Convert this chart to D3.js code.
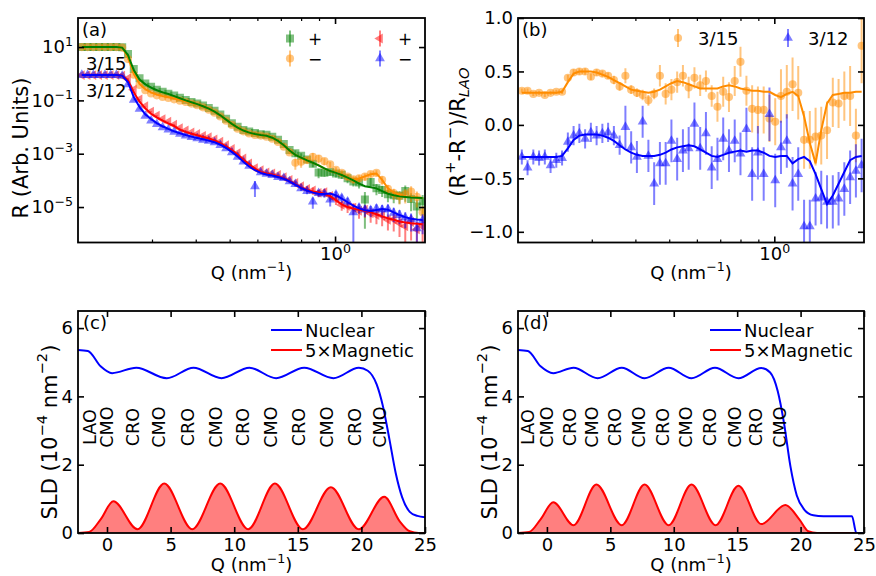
<!DOCTYPE html>
<html>
<head>
<meta charset="utf-8">
<script src="https://cdn.jsdelivr.net/npm/d3@7/dist/d3.min.js"></script>
<style>
  html, body { margin: 0; padding: 0; background: #fff; }
  svg text { font-family: "DejaVu Sans", sans-serif; fill: #000; }
</style>
</head>
<body>
<svg id="fig" width="876" height="576"></svg>
<script>
// ---------------- data ----------------
// Momentum transfer grid shared by the reflectivity and spin-asymmetry panels (nm^-1)
const qValues = [0.1891,0.1964,0.2040,0.2119,0.2201,0.2286,0.2374,0.2466,0.2562,0.2661,
  0.2764,0.2871,0.2982,0.3097,0.3217,0.3341,0.3471,0.3605,0.3745,0.3890,
  0.4040,0.4196,0.4358,0.4527,0.4702,0.4884,0.5073,0.5269,0.5473,0.5685,
  0.5905,0.6133,0.6370,0.6617,0.6873,0.7139,0.7415,0.7702,0.8000,0.8320,
  0.8640,0.8975,0.9324,0.9685,1.006,1.045,1.086,1.128,1.171,1.217,
  1.264,1.313,1.363,1.416,1.471,1.528,1.587,1.649,1.713,1.779];

// Reflectivity, log10(R): measured points
const r315PlusLog = [1.00,1.00,1.00,1.00,1.00,1.00,1.00,0.99,0.74,0.18,
  -0.17,-0.37,-0.49,-0.60,-0.68,-0.75,-0.82,-0.90,-0.99,-1.06,
  -1.12,-1.19,-1.29,-1.39,-1.53,-1.69,-1.86,-1.99,-2.11,-2.17,
  -2.22,-2.27,-2.29,-2.36,-2.48,-2.64,-2.86,-2.98,-3.08,-3.22,
  -3.38,-3.70,-3.71,-3.69,-3.74,-3.79,-3.92,-4.04,-4.08,-4.72,
  -4.06,-4.30,-4.36,-4.52,-4.56,-4.58,-4.40,-4.70,-4.98,-4.78];
const r315MinusLog = [1.00,1.00,1.00,1.00,1.00,1.00,1.00,0.98,0.55,-0.04,
  -0.42,-0.62,-0.74,-0.81,-0.87,-0.91,-0.96,-1.01,-1.06,-1.12,
  -1.18,-1.26,-1.35,-1.46,-1.60,-1.76,-1.92,-2.06,-2.16,-2.24,
  -2.30,-2.32,-2.36,-2.44,-2.56,-2.74,-2.95,-3.34,-3.30,-3.24,
  -3.12,-3.18,-3.28,-3.40,-3.60,-3.72,-3.86,-3.96,-3.92,-3.86,
  -3.76,-3.72,-3.98,-4.32,-4.48,-4.60,-4.52,-4.42,-4.62,-5.20];
const r312PlusLog = [-0.05,-0.05,-0.05,-0.05,-0.05,-0.05,-0.05,-0.07,-0.18,-0.60,
  -0.96,-1.22,-1.42,-1.57,-1.70,-1.80,-1.91,-2.04,-2.13,-2.20,
  -2.26,-2.33,-2.38,-2.46,-2.55,-2.68,-2.82,-2.98,-3.18,-3.36,
  -3.54,-3.62,-3.70,-3.74,-3.80,-3.88,-3.98,-4.10,-4.22,-4.32,
  -4.38,-4.47,-4.44,-4.58,-4.70,-4.92,-4.96,-5.02,-5.14,-5.10,
  -5.24,-5.30,-5.32,-5.48,-5.46,-5.60,-5.72,-5.56,-5.84,-5.72];
const r312MinusLog = [-0.05,-0.05,-0.05,-0.05,-0.05,-0.05,-0.05,-0.08,-0.40,-0.98,
  -1.32,-1.58,-1.76,-1.89,-2.01,-2.10,-2.18,-2.26,-2.32,-2.38,
  -2.43,-2.48,-2.52,-2.58,-2.68,-2.80,-2.95,-3.12,-3.30,-3.46,
  -4.23,-3.70,-3.76,-3.80,-3.88,-3.92,-4.04,-4.14,-4.30,-4.40,
  -4.80,-4.48,-4.50,-4.72,-4.54,-4.66,-4.80,-5.20,-5.02,-5.10,
  -5.12,-5.06,-5.10,-5.08,-5.22,-5.30,-5.40,-5.46,-5.80,-5.50];

// Relative uncertainty of each reflectivity point
const r315PlusErr = [.02,.02,.02,.02,.02,.02,.02,.02,.03,.03,.03,.03,.03,.03,.03,.03,.03,.03,.03,.03,
  .05,.05,.05,.05,.05,.05,.05,.05,.05,.05,.08,.08,.08,.10,.10,.12,.15,.30,.25,.20,
  .25,.40,.30,.25,.30,.30,.35,.35,.40,.92,.40,.45,.45,.50,.50,.50,.60,.65,.70,.70];
const r315MinusErr = [.02,.02,.02,.02,.02,.02,.02,.02,.03,.03,.03,.03,.03,.03,.03,.03,.03,.03,.03,.03,
  .05,.05,.05,.05,.05,.05,.05,.05,.05,.05,.08,.08,.08,.10,.10,.12,.15,.45,.40,.25,
  .40,.35,.30,.25,.25,.25,.25,.30,.30,.30,.25,.25,.35,.40,.45,.50,.55,.60,.60,.70];
const r312PlusErr = [.02,.02,.02,.02,.02,.02,.02,.02,.03,.03,.03,.03,.03,.03,.03,.03,.03,.03,.03,.03,
  .05,.05,.05,.05,.05,.05,.05,.05,.05,.05,.08,.08,.08,.08,.08,.12,.15,.20,.25,.25,
  .30,.30,.35,.35,.40,.40,.45,.45,.50,.50,.55,.55,.60,.60,.65,.70,.90,.80,.90,.80];
const r312MinusErr = [.02,.02,.02,.02,.02,.02,.02,.02,.03,.03,.03,.03,.03,.03,.03,.03,.03,.03,.03,.03,
  .05,.05,.05,.05,.05,.05,.05,.05,.05,.05,.60,.08,.08,.10,.10,.12,.15,.20,.20,.25,
  .45,.30,.30,.45,.35,.35,.40,1.0,.40,.45,.45,.45,.50,.50,.55,.55,.60,.65,1.0,.70];

// Model reflectivity, log10(R)
const fit315PlusLog = [1.00,1.00,1.00,1.00,1.00,1.00,1.00,0.98,0.70,0.14,
  -0.22,-0.40,-0.52,-0.62,-0.70,-0.76,-0.84,-0.92,-1.00,-1.07,
  -1.14,-1.22,-1.31,-1.42,-1.56,-1.72,-1.88,-2.02,-2.13,-2.21,
  -2.26,-2.30,-2.33,-2.40,-2.52,-2.68,-2.88,-3.04,-3.15,-3.25,
  -3.34,-3.44,-3.55,-3.65,-3.72,-3.80,-3.90,-4.00,-4.12,-4.22,
  -4.26,-4.30,-4.40,-4.50,-4.56,-4.60,-4.62,-4.64,-4.65,-4.66];
const fit315MinusLog = [1.00,1.00,1.00,1.00,1.00,1.00,1.00,0.98,0.60,0.00,
  -0.38,-0.58,-0.70,-0.78,-0.84,-0.88,-0.93,-0.98,-1.03,-1.09,
  -1.15,-1.22,-1.31,-1.42,-1.56,-1.72,-1.88,-2.02,-2.13,-2.21,
  -2.26,-2.30,-2.33,-2.40,-2.52,-2.68,-2.88,-3.04,-3.15,-3.25,
  -3.34,-3.44,-3.55,-3.65,-3.72,-3.80,-3.90,-3.98,-3.93,-3.85,
  -3.77,-3.74,-3.98,-4.30,-4.45,-4.54,-4.60,-4.62,-4.64,-4.66];
const fit312PlusLog = [-0.05,-0.05,-0.05,-0.05,-0.05,-0.05,-0.05,-0.07,-0.25,-0.70,
  -1.05,-1.30,-1.50,-1.64,-1.76,-1.86,-1.96,-2.10,-2.18,-2.25,
  -2.31,-2.37,-2.43,-2.50,-2.60,-2.72,-2.86,-3.03,-3.22,-3.40,
  -3.56,-3.68,-3.74,-3.78,-3.84,-3.92,-4.02,-4.14,-4.26,-4.36,
  -4.42,-4.45,-4.50,-4.60,-4.74,-4.90,-5.00,-5.06,-5.10,-5.14,
  -5.20,-5.27,-5.35,-5.42,-5.48,-5.54,-5.58,-5.61,-5.63,-5.65];
const fit312MinusLog = [-0.05,-0.05,-0.05,-0.05,-0.05,-0.05,-0.05,-0.07,-0.32,-0.88,
  -1.25,-1.52,-1.70,-1.85,-1.97,-2.07,-2.16,-2.23,-2.30,-2.36,
  -2.41,-2.46,-2.51,-2.57,-2.66,-2.78,-2.93,-3.10,-3.30,-3.48,
  -3.62,-3.72,-3.78,-3.82,-3.87,-3.94,-4.04,-4.16,-4.28,-4.38,
  -4.46,-4.50,-4.51,-4.49,-4.56,-4.68,-4.82,-4.95,-5.05,-5.12,
  -5.15,-5.11,-5.07,-5.10,-5.20,-5.30,-5.38,-5.44,-5.47,-5.49];

// Spin asymmetry (R+ - R-)/R_LAO
const sa315 = [0.32,0.32,0.29,0.30,0.28,0.30,0.31,0.31,0.44,0.49,
  0.50,0.50,0.45,0.49,0.48,0.46,0.42,0.36,0.46,0.33,
  0.30,0.28,0.23,0.29,0.46,0.29,0.33,0.40,0.46,0.35,
  0.44,0.37,0.41,0.27,0.17,0.31,0.26,0.41,0.59,0.32,
  0.15,0.14,0.14,0.06,0.03,0.27,0.31,0.38,0.30,-0.14,
  -0.14,-0.11,-0.10,-0.05,0.21,0.20,0.27,0.27,-0.10,0.74];
const sa315Err = [.02,.02,.02,.02,.02,.02,.02,.02,.03,.03,
  .03,.03,.03,.03,.03,.03,.04,.04,.07,.04,
  .04,.05,.05,.05,.10,.10,.10,.10,.10,.10,
  .10,.10,.10,.10,.14,.14,.14,.14,.14,.14,
  .22,.22,.22,.22,.22,.25,.25,.25,.25,.27,
  .27,.27,.27,.27,.23,.23,.23,.28,.25,.35];
const sa312 = [-0.30,-0.40,-0.30,-0.31,-0.30,-0.38,-0.33,-0.31,-0.16,-0.10,
  -0.08,-0.13,-0.07,-0.10,-0.08,-0.07,-0.10,-0.19,-0.02,-0.21,
  -0.30,0.03,-0.29,-0.55,-0.36,-0.36,-0.15,-0.32,-0.24,-0.22,
  0.01,-0.22,-0.08,-0.40,-0.32,-0.13,-0.24,-0.15,-0.27,-0.04,
  -0.46,-0.26,-0.46,0.10,-0.52,-0.21,-0.15,-0.55,-0.46,-0.95,
  -0.95,-0.69,-0.68,-0.72,-0.72,-0.69,-0.60,-0.49,-0.43,-0.38];
const sa312Err = [.07,.07,.07,.07,.07,.07,.07,.07,.09,.09,
  .09,.09,.09,.09,.09,.09,.09,.09,.20,.15,
  .15,.15,.15,.20,.20,.20,.20,.20,.20,.20,
  .20,.20,.20,.20,.20,.20,.20,.20,.20,.20,
  .25,.25,.25,.25,.25,.25,.25,.25,.25,.25,
  .25,.25,.25,.25,.25,.25,.25,.25,.25,.25];
const saFit315 = [0.30,0.30,0.30,0.30,0.30,0.30,0.30,0.31,0.40,0.48,
  0.50,0.50,0.50,0.49,0.47,0.45,0.42,0.39,0.36,0.33,
  0.32,0.31,0.30,0.31,0.33,0.36,0.39,0.41,0.40,0.38,
  0.36,0.34,0.34,0.34,0.34,0.36,0.37,0.36,0.34,0.33,
  0.32,0.32,0.31,0.31,0.28,0.26,0.29,0.31,0.27,0.08,
  -0.17,-0.36,-0.05,0.20,0.28,0.29,0.30,0.30,0.31,0.31];
const saFit312 = [-0.30,-0.30,-0.30,-0.30,-0.30,-0.30,-0.30,-0.29,-0.22,-0.14,
  -0.10,-0.09,-0.09,-0.09,-0.10,-0.12,-0.15,-0.19,-0.23,-0.26,
  -0.28,-0.29,-0.29,-0.29,-0.28,-0.26,-0.23,-0.21,-0.20,-0.19,
  -0.20,-0.23,-0.26,-0.29,-0.30,-0.28,-0.26,-0.25,-0.24,-0.25,
  -0.24,-0.24,-0.26,-0.29,-0.30,-0.29,-0.29,-0.36,-0.32,-0.30,
  -0.34,-0.46,-0.60,-0.74,-0.66,-0.55,-0.44,-0.33,-0.30,-0.29];

// Scattering length density profiles (10^-4 nm^-2) vs depth
const sldZNucC = [-2.3,-1.5,-0.5,0.4,2.3,4.7,6.8,9.0,11.2,13.3,15.5,17.8,19.8,20.5,21.2,21.7,22.2,22.7,23.2,23.8,24.4,25.0];
const sldNucC  = [5.36,5.33,4.88,4.68,4.84,4.53,4.84,4.53,4.84,4.53,4.84,4.53,4.84,4.75,4.35,3.70,2.75,1.75,1.05,0.62,0.50,0.46];
const sldZMagC = [-2.3,-1.4,-0.5,0.5,2.4,4.5,6.7,8.9,11.1,13.2,15.4,17.6,19.8,21.8,23.0,23.8,24.5,25.0];
const sldMagC  = [0.0,0.03,0.40,0.93,0.11,1.45,0.11,1.45,0.11,1.45,0.11,1.34,0.11,1.06,0.35,0.05,0.0,0.0];
const sldZNucD = [-2.3,-1.5,-0.5,0.5,2.1,4.0,5.9,7.7,9.6,11.4,13.25,15.1,16.9,17.6,18.2,18.7,19.2,19.7,20.3,21.0,21.8,24.05,24.4,25.0];
const sldNucD  = [5.36,5.33,4.88,4.68,4.84,4.53,4.84,4.53,4.84,4.53,4.84,4.53,4.83,4.70,4.15,3.20,1.95,1.10,0.68,0.52,0.49,0.49,0.0,0.0];
const sldZMagD = [-2.3,-1.4,-0.5,0.5,2.1,3.9,5.9,7.7,9.6,11.4,13.3,15.1,16.9,18.8,19.9,20.6,21.3,25.0];
const sldMagD  = [0.0,0.03,0.40,0.90,0.23,1.42,0.23,1.42,0.23,1.42,0.23,1.38,0.26,0.82,0.40,0.05,0.0,0.0];

// Layer stack annotations
const layerNames = ["LAO","CMO","CRO","CMO","CRO","CMO","CRO","CMO","CRO","CMO","CRO","CMO"];
const layerZC = [-1.34,0,2.04,4.09,6.37,8.57,10.69,12.89,15.09,17.3,19.5,21.5];
const layerZD = [-1.47,-0.02,1.81,3.53,5.36,7.28,9.13,11.0,12.85,14.8,16.5,18.4];

// Tick values
const refYTicks = [1e1, 1e-1, 1e-3, 1e-5];
const qMajorTicks = [1];
const qMinorTicks = [0.3,0.4,0.5,0.6,0.7,0.8,0.9];
const saTicks = [-1.0,-0.5,0.0,0.5,1.0];
const sldTicks = [0,2,4,6];
const depthTicks = [0,5,10,15,20,25];

// ---------------- layout & scales ----------------
const FS = 18;
const FS_YLABEL = 21;
const svg = d3.select("#fig");
const box = {
  a: {x0: 78,  x1: 425, y0: 18,  y1: 242.5},
  b: {x0: 518, x1: 864, y0: 18,  y1: 242.5},
  c: {x0: 78,  x1: 425, y0: 311, y1: 533},
  d: {x0: 518, x1: 864, y0: 311, y1: 533}
};
const qDomain = [0.1844, 1.807];
const xA = d3.scaleLog().domain(qDomain).range([box.a.x0, box.a.x1]);
const yA = d3.scaleLog().domain([Math.pow(10,-6.33), Math.pow(10,2.09)]).range([box.a.y1, box.a.y0]);
const xB = d3.scaleLog().domain(qDomain).range([box.b.x0, box.b.x1]);
const yB = d3.scaleLinear().domain([-1.1, 1.0]).range([box.b.y1, box.b.y0]);
const xC = d3.scaleLinear().domain([-2.28, 25]).range([box.c.x0, box.c.x1]);
const yC = d3.scaleLinear().domain([0, 6.5]).range([box.c.y1, box.c.y0]);
const xD = d3.scaleLinear().domain([-2.28, 25]).range([box.d.x0, box.d.x1]);
const yD = d3.scaleLinear().domain([0, 6.5]).range([box.d.y1, box.d.y0]);

const COL = {green: "#008000", orange: "#ff8c00", red: "#ff0000", blue: "#0000ff"};

const defs = svg.append("defs");
Object.entries(box).forEach(([k, p]) => {
  defs.append("clipPath").attr("id", "clip-" + k)
    .append("rect").attr("x", p.x0).attr("y", p.y0)
    .attr("width", p.x1 - p.x0).attr("height", p.y1 - p.y0);
});

// text made of plain / superscript / subscript runs
function richText(sel, parts, fs) {
  fs = fs || FS;
  let shift = 0;
  parts.forEach(pt => {
    const t = sel.append("tspan").text(pt.t);
    let target = 0;
    if (pt.sup) { target = -0.42 * fs; t.attr("font-size", fs * 0.7); }
    if (pt.sub) { target = 0.26 * fs; t.attr("font-size", fs * 0.7); }
    if (pt.italic) t.attr("font-style", "italic");
    if (target !== shift) { t.attr("dy", target - shift); shift = target; }
  });
  return sel;
}

function styleAxis(g) {
  g.attr("font-size", FS).attr("font-family", null);
  g.select(".domain").remove();
  g.selectAll(".tick line").attr("stroke", "#000").attr("stroke-width", 1.6);
  g.selectAll(".tick text").attr("fill", "#000");
}

function frameAxes(p, xs, ys, o) {
  const g = svg.append("g");
  const bx = g.append("g").attr("transform", `translate(0,${p.y1})`)
    .call(d3.axisBottom(xs).tickValues(o.xTicks).tickSizeInner(-6).tickSizeOuter(0)
      .tickPadding(5).tickFormat(o.xFmt || (() => "")));
  styleAxis(bx);
  if (o.xRich) bx.selectAll(".tick text").each(function(d) { const s = d3.select(this).text(null); richText(s, o.xRich(d)); });
  const tx = g.append("g").attr("transform", `translate(0,${p.y0})`)
    .call(d3.axisTop(xs).tickValues(o.xTicks).tickSizeInner(-6).tickSizeOuter(0).tickFormat(() => ""));
  styleAxis(tx);
  if (o.xMinor) {
    [[d3.axisBottom, p.y1], [d3.axisTop, p.y0]].forEach(([ax, y]) => {
      const m = g.append("g").attr("transform", `translate(0,${y})`)
        .call(ax(xs).tickValues(o.xMinor).tickSizeInner(-3).tickSizeOuter(0).tickFormat(() => ""));
      styleAxis(m);
      m.selectAll(".tick line").attr("stroke-width", 1.2);
    });
  }
  const ly = g.append("g").attr("transform", `translate(${p.x0},0)`)
    .call(d3.axisLeft(ys).tickValues(o.yTicks).tickSizeInner(-6).tickSizeOuter(0)
      .tickPadding(5).tickFormat(o.yFmt || (() => "")));
  styleAxis(ly);
  if (o.yRich) ly.selectAll(".tick text").each(function(d) { const s = d3.select(this).text(null); richText(s, o.yRich(d)); });
  const ry = g.append("g").attr("transform", `translate(${p.x1},0)`)
    .call(d3.axisRight(ys).tickValues(o.yTicks).tickSizeInner(-6).tickSizeOuter(0).tickFormat(() => ""));
  styleAxis(ry);
  g.append("rect").attr("x", p.x0).attr("y", p.y0)
    .attr("width", p.x1 - p.x0).attr("height", p.y1 - p.y0)
    .attr("fill", "none").attr("stroke", "#000").attr("stroke-width", 1.8);
}

const minus = v => (v < 0 ? "\u2212" : "") + Math.abs(v).toFixed(1);
const expParts = d => [{t: "10"}, {t: String(Math.round(Math.log10(d))).replace("-", "\u2212"), sup: true}];

function xLabel(p, y) {
  richText(svg.append("text").attr("x", (p.x0 + p.x1) / 2).attr("y", y)
    .attr("text-anchor", "middle").attr("font-size", FS),
    [{t: "Q (nm"}, {t: "\u22121", sup: true}, {t: ")"}]);
}
function yLabel(x, y, parts) {
  richText(svg.append("text").attr("transform", `translate(${x},${y}) rotate(-90)`)
    .attr("text-anchor", "middle").attr("dominant-baseline", "central").attr("font-size", FS_YLABEL),
    parts, FS_YLABEL);
}
function plainText(x, y, s, anchor) {
  return svg.append("text").attr("x", x).attr("y", y).attr("font-size", FS)
    .attr("text-anchor", anchor || "start").text(s);
}

const SHAPES = {
  square: {type: d3.symbolSquare, size: 64, rot: 0},
  circle: {type: d3.symbolCircle, size: 52, rot: 0},
  tleft:  {type: d3.symbolTriangle, size: 42, rot: -90},
  tup:    {type: d3.symbolTriangle, size: 42, rot: 0}
};
function marker(g, shape, x, y, color) {
  const s = SHAPES[shape];
  g.append("path").attr("d", d3.symbol().type(s.type).size(s.size)())
    .attr("transform", `translate(${x},${y}) rotate(${s.rot})`)
    .attr("fill", color).attr("fill-opacity", 0.5);
}
function errBar(g, x, yTop, yBot, color) {
  g.append("line").attr("x1", x).attr("x2", x).attr("y1", yTop).attr("y2", yBot)
    .attr("stroke", color).attr("stroke-opacity", 0.5).attr("stroke-width", 2);
}

// ---------------- (a) reflectivity ----------------
const gA = svg.append("g").attr("clip-path", "url(#clip-a)");
function refData(logVals, relErr, shape, color) {
  const g = gA.append("g");
  qValues.forEach((q, i) => {
    const r = Math.pow(10, logVals[i]);
    const e = relErr[i];
    const x = xA(q);
    const lo = e >= 1 ? box.a.y1 + 10 : yA(r * (1 - e));
    errBar(g, x, yA(r * (1 + e)), lo, color);
    marker(g, shape, x, yA(r), color);
  });
}
function refFit(logVals, color) {
  gA.append("path")
    .datum(qValues.map((q, i) => [q, Math.pow(10, logVals[i])]))
    .attr("d", d3.line().x(d => xA(d[0])).y(d => yA(d[1])))
    .attr("fill", "none").attr("stroke", color).attr("stroke-width", 2);
}
refData(r315PlusLog, r315PlusErr, "square", COL.green);
refData(r315MinusLog, r315MinusErr, "circle", COL.orange);
refData(r312PlusLog, r312PlusErr, "tleft", COL.red);
refData(r312MinusLog, r312MinusErr, "tup", COL.blue);
refFit(fit315MinusLog, COL.orange);
refFit(fit315PlusLog, COL.green);
refFit(fit312PlusLog, COL.red);
refFit(fit312MinusLog, COL.blue);

frameAxes(box.a, xA, yA, {
  xTicks: qMajorTicks, xMinor: qMinorTicks, xRich: expParts,
  yTicks: refYTicks, yRich: expParts
});
xLabel(box.a, 279);
yLabel(21, 148, [{t: "R (Arb. Units)"}]);
plainText(82, 36, "(a)");
plainText(86, 70, "3/15");
plainText(86, 97, "3/12");

// legend (a)
const legA = svg.append("g");
[[290, 38.5, "square", COL.green, "+"], [290, 58.5, "circle", COL.orange, "\u2212"],
 [380, 38.5, "tleft", COL.red, "+"], [380, 58.5, "tup", COL.blue, "\u2212"]].forEach(([x, y, sh, c, s]) => {
  errBar(legA, x, y - 8, y + 8, c);
  marker(legA, sh, x, y, c);
  legA.append("text").attr("x", x + 25).attr("y", y).attr("font-size", FS - 1)
    .attr("text-anchor", "middle").attr("dominant-baseline", "central").text(s);
});

// ---------------- (b) spin asymmetry ----------------
const gB = svg.append("g").attr("clip-path", "url(#clip-b)");
function saData(vals, errs, shape, color) {
  const g = gB.append("g");
  qValues.forEach((q, i) => {
    const x = xB(q);
    errBar(g, x, yB(vals[i] + errs[i]), yB(vals[i] - errs[i]), color);
    marker(g, shape, x, yB(vals[i]), color);
  });
}
function saFit(vals, color) {
  gB.append("path")
    .datum(qValues.map((q, i) => [q, vals[i]]))
    .attr("d", d3.line().x(d => xB(d[0])).y(d => yB(d[1])))
    .attr("fill", "none").attr("stroke", color).attr("stroke-width", 2);
}
saData(sa315, sa315Err, "circle", COL.orange);
saData(sa312, sa312Err, "tup", COL.blue);
saFit(saFit315, COL.orange);
saFit(saFit312, COL.blue);

frameAxes(box.b, xB, yB, {
  xTicks: qMajorTicks, xMinor: qMinorTicks, xRich: expParts,
  yTicks: saTicks, yFmt: minus
});
xLabel(box.b, 279);
yLabel(458, 132, [{t: "(R"}, {t: "+", sup: true}, {t: "-R"}, {t: "\u2212", sup: true},
  {t: ")/R"}, {t: "LAO", sub: true, italic: true}]);
plainText(522, 36, "(b)");

const legB = svg.append("g");
[[678, 38, "circle", COL.orange, "3/15"], [788, 38, "tup", COL.blue, "3/12"]].forEach(([x, y, sh, c, s]) => {
  errBar(legB, x, y - 9, y + 9, c);
  marker(legB, sh, x, y, c);
  legB.append("text").attr("x", x + 20).attr("y", y).attr("font-size", FS)
    .attr("dominant-baseline", "central").text(s);
});

// ---------------- (c), (d) SLD profiles ----------------
function sldPanel(key, xs, ys, zNuc, nuc, zMag, mag, layerZ, legX) {
  const p = box[key];
  const g = svg.append("g").attr("clip-path", `url(#clip-${key})`);
  const magPts = zMag.map((z, i) => [z, mag[i]]);
  g.append("path").datum(magPts)
    .attr("d", d3.area().curve(d3.curveMonotoneX).x(d => xs(d[0])).y0(ys(0)).y1(d => ys(d[1])))
    .attr("fill", COL.red).attr("fill-opacity", 0.5);
  g.append("path").datum(magPts)
    .attr("d", d3.line().curve(d3.curveMonotoneX).x(d => xs(d[0])).y(d => ys(d[1])))
    .attr("fill", "none").attr("stroke", COL.red).attr("stroke-width", 2);
  g.append("path").datum(zNuc.map((z, i) => [z, nuc[i]]))
    .attr("d", d3.line().curve(d3.curveMonotoneX).x(d => xs(d[0])).y(d => ys(d[1])))
    .attr("fill", "none").attr("stroke", COL.blue).attr("stroke-width", 2);

  layerNames.forEach((name, i) => {
    svg.append("text")
      .attr("transform", `translate(${xs(layerZ[i])},${ys(3.1)}) rotate(-90)`)
      .attr("text-anchor", "middle").attr("dominant-baseline", "central")
      .attr("font-size", 17.5).text(name);
  });

  frameAxes(p, xs, ys, {
    xTicks: depthTicks, xFmt: d => String(d),
    yTicks: sldTicks, yFmt: d => String(d)
  });
  xLabel(p, 571);
  yLabel(p.x0 - 28, 432, [{t: "SLD (10"}, {t: "\u22124", sup: true},
    {t: " nm"}, {t: "\u22122", sup: true}, {t: ")"}]);
  plainText(p.x0 + 5, 329, key === "c" ? "(c)" : "(d)");

  const leg = svg.append("g");
  [[330, COL.blue, "Nuclear"], [350, COL.red, "5\u00d7Magnetic"]].forEach(([y, c, s]) => {
    leg.append("line").attr("x1", legX).attr("x2", legX + 31).attr("y1", y).attr("y2", y)
      .attr("stroke", c).attr("stroke-width", 2);
    leg.append("text").attr("x", legX + 34).attr("y", y).attr("font-size", FS)
      .attr("dominant-baseline", "central").text(s);
  });
}
sldPanel("c", xC, yC, sldZNucC, sldNucC, sldZMagC, sldMagC, layerZC, 271);
sldPanel("d", xD, yD, sldZNucD, sldNucD, sldZMagD, sldMagD, layerZD, 710);
</script>
</body>
</html>
